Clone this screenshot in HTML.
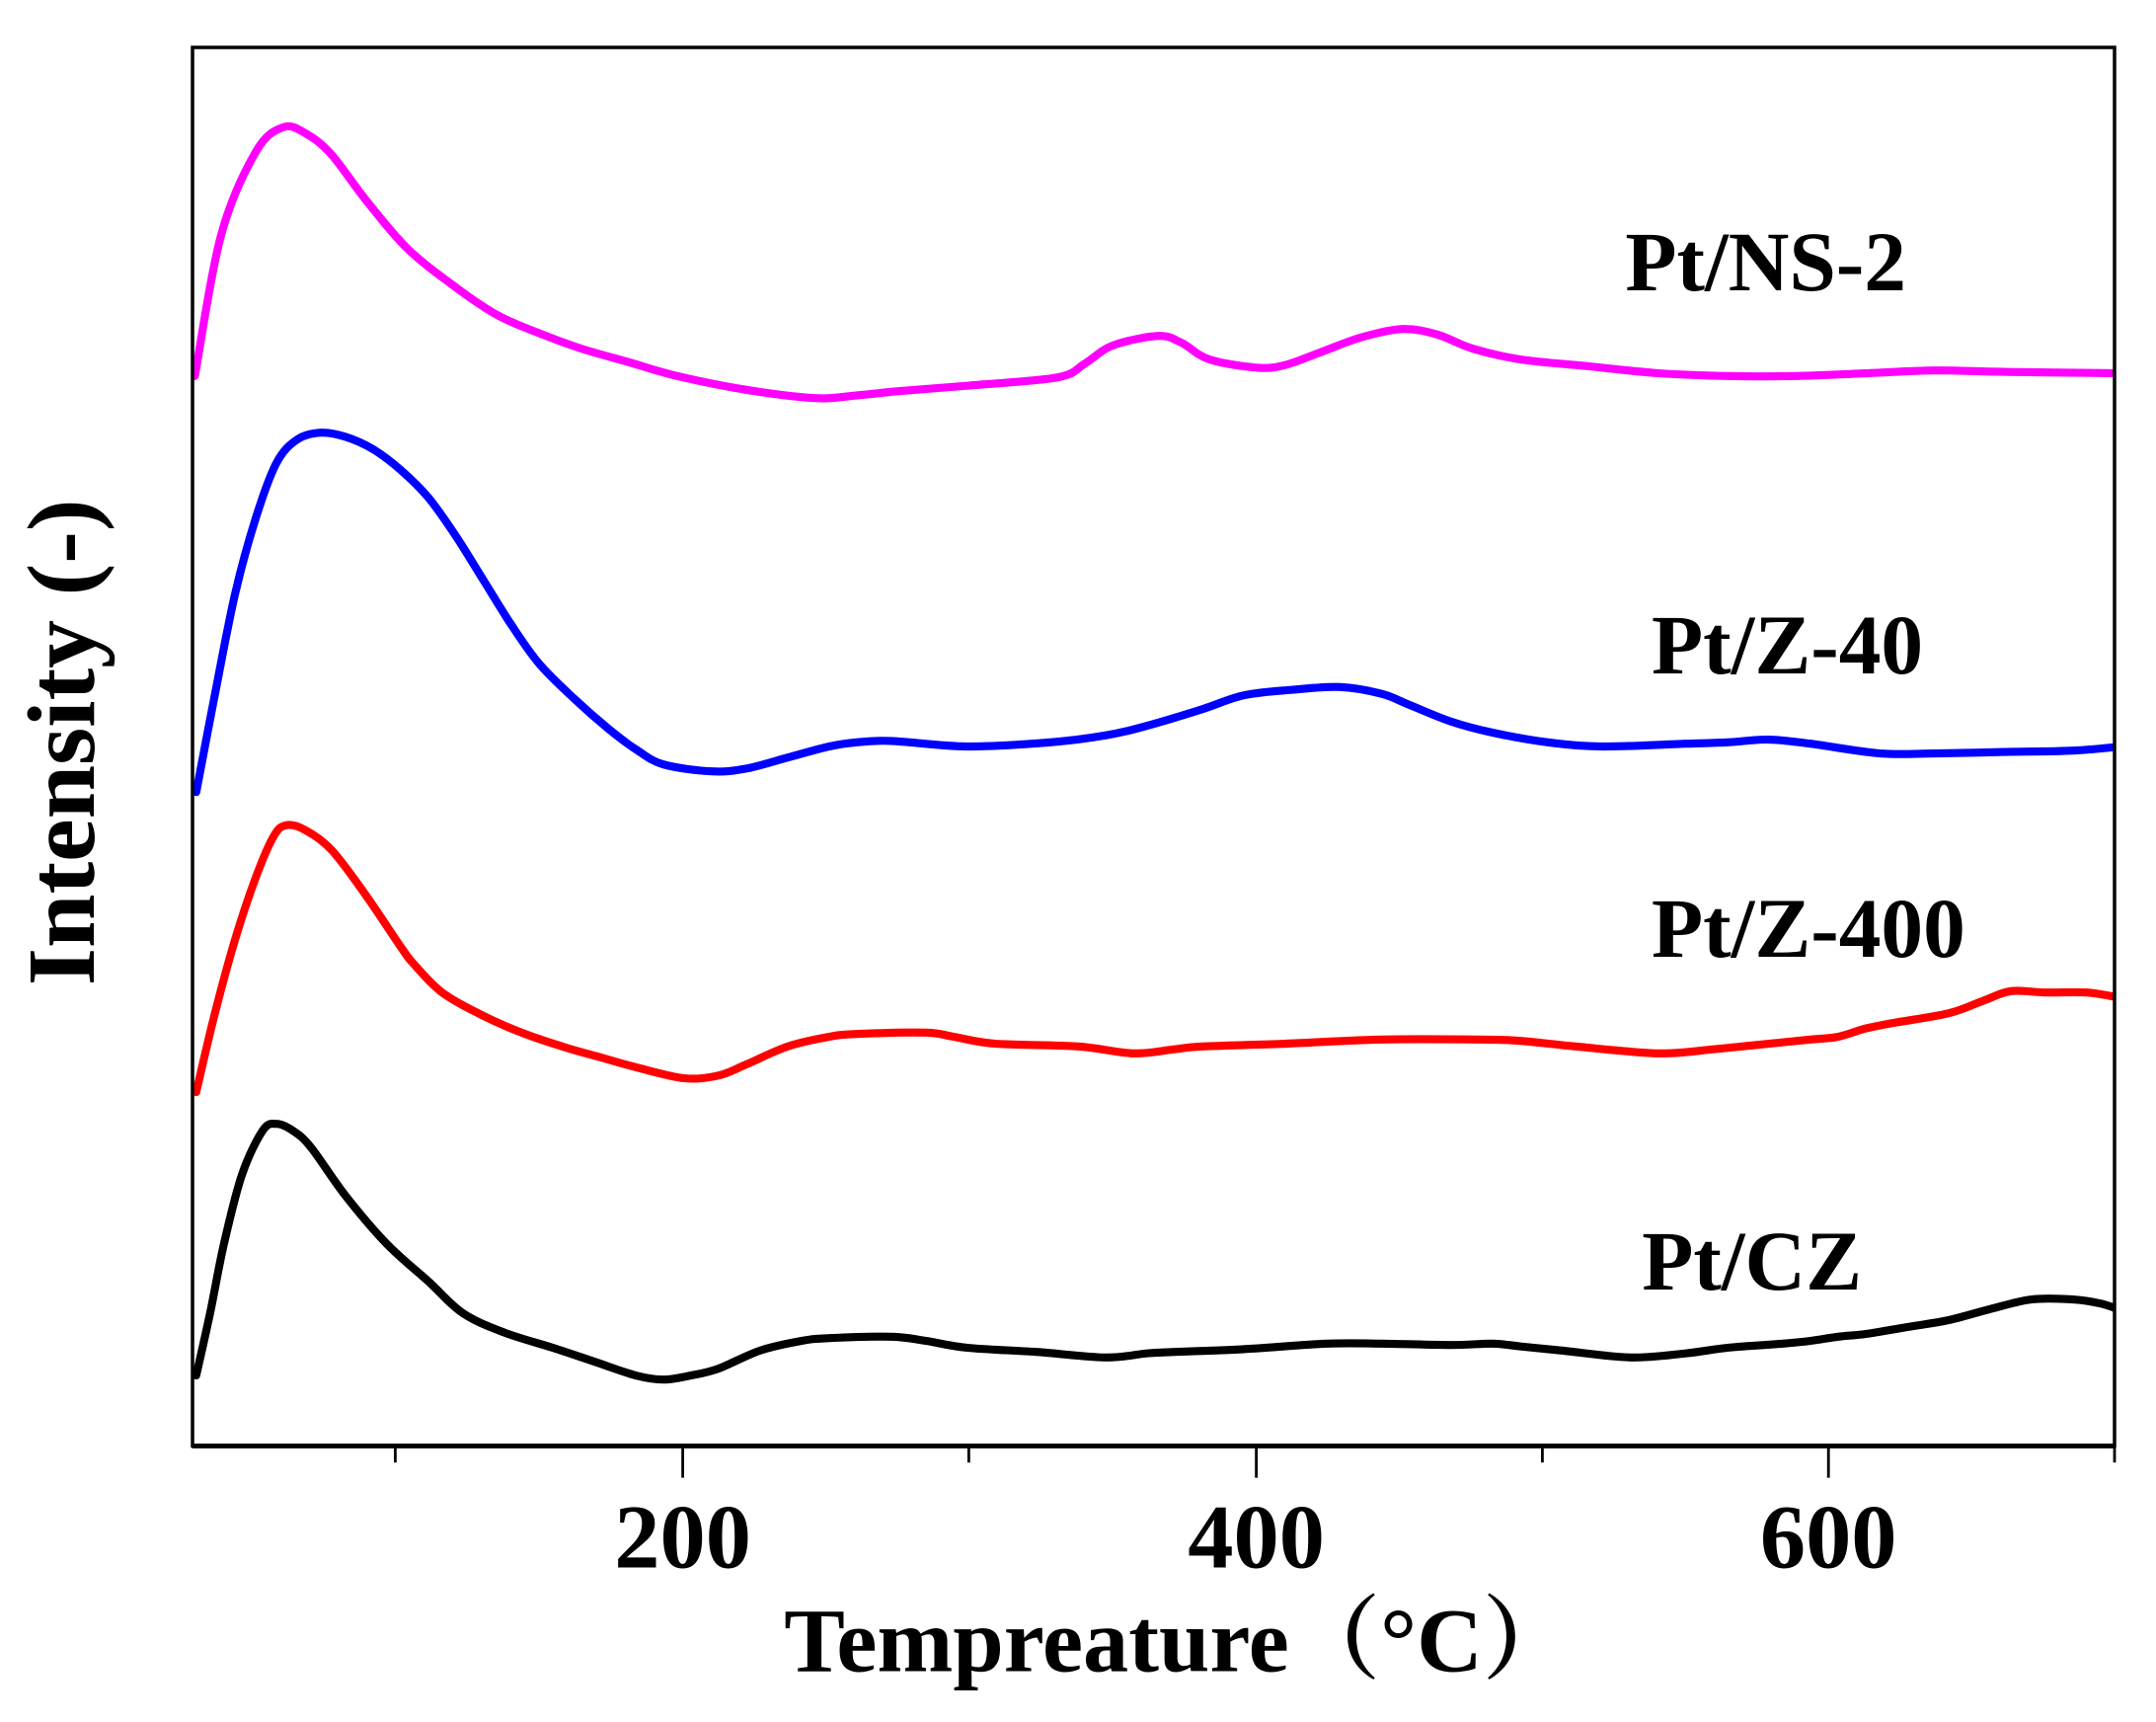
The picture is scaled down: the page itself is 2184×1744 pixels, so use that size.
<!DOCTYPE html>
<html><head><meta charset="utf-8"><style>
html,body{margin:0;padding:0;background:#fff;}
svg{display:block;}
text{font-family:"Liberation Serif","Noto Serif CJK SC",serif;font-weight:bold;fill:#000;}
</style></head><body>
<svg id="s" width="2184" height="1744" viewBox="0 0 1560 1245.7" xmlns="http://www.w3.org/2000/svg">
<defs><clipPath id="cp"><rect x="139.3" y="34.3" width="1390.7" height="1011.7"/></clipPath></defs>
<rect x="0" y="0" width="1560" height="1246" fill="#fff"/>
<g id="curves" clip-path="url(#cp)" fill="none" stroke-width="5.8" stroke-linejoin="round" stroke-linecap="round"></g>
<rect x="139.3" y="34.3" width="1390.7" height="1011.7" fill="none" stroke="#000" stroke-width="2.5"/>
<line x1="139" y1="1046" x2="1531" y2="1046" stroke="#000" stroke-width="3.5"/>
<g stroke="#000" stroke-width="2">
<line x1="286" y1="1046" x2="286" y2="1058"/>
<line x1="494" y1="1046" x2="494" y2="1069"/>
<line x1="701" y1="1046" x2="701" y2="1058"/>
<line x1="909" y1="1046" x2="909" y2="1069"/>
<line x1="1116" y1="1046" x2="1116" y2="1058"/>
<line x1="1323" y1="1046" x2="1323" y2="1069"/>
<line x1="1530" y1="1046" x2="1530" y2="1058"/>
</g>
<g font-size="66" text-anchor="middle">
<text x="494" y="1134">200</text>
<text x="909" y="1134">400</text>
<text x="1323" y="1134">600</text>
</g>
<text x="853" y="1209" font-size="66" text-anchor="middle">Tempreature（°C）</text>
<text transform="translate(68,537) rotate(-90)" font-size="70" text-anchor="middle">Intensity (-)</text>
<g font-size="61">
<text x="1176" y="210">Pt/NS-2</text>
<text x="1195" y="487">Pt/Z-40</text>
<text x="1195" y="692">Pt/Z-400</text>
<text x="1188" y="933">Pt/CZ</text>
</g>
</svg>
<script>
var S={
"#ff00ff":[[141,272],[160,170],[185,110],[205,92],[222,97],[240,112],[265,145],[295,180],[330,208],[360,228],[390,241],[420,252],[455,262],[490,272],[540,282],[590,288],[620,286],[650,283],[700,279],[765,273],[785,263],[805,250],[838,243],[855,248],[875,260],[910,266],[930,264],[955,255],[985,244],[1015,238],[1040,242],[1065,252],[1100,260],[1150,265],[1200,270],[1250,272],[1300,272],[1350,270],[1400,268],[1450,269],[1535,270]],
"#0000ff":[[142,573],[155,505],[170,430],[185,375],[200,335],[215,318],[232,313],[250,316],[270,325],[290,340],[310,360],[330,388],[350,420],[370,452],[390,480],[415,505],[440,527],[460,542],[480,553],[515,558],[540,556],[570,548],[600,540],[620,537],[645,536],[700,540],[760,537],[800,532],[830,525],[870,513],[900,503],[935,499],[970,497],[1000,502],[1020,510],[1050,522],[1080,530],[1120,537],[1160,540],[1220,538],[1250,537],[1280,535],[1310,538],[1360,545],[1400,545],[1450,544],[1500,543],[1535,540]],
"#ff0000":[[142,790],[155,735],[170,680],[185,635],[198,605],[207,597],[220,600],[240,615],[265,648],[290,685],[300,698],[320,718],[350,735],[380,748],[410,758],[435,765],[460,772],[495,780],[520,778],[540,770],[570,757],[600,750],[620,748],[670,747],[690,750],[720,755],[780,757],[820,762],[850,759],[870,757],[930,755],[1000,752],[1070,752],[1100,753],[1140,757],[1200,762],[1240,759],[1270,756],[1310,752],[1330,750],[1350,744],[1370,740],[1410,733],[1435,724],[1455,717],[1480,718],[1510,718],[1535,722]],
"#000000":[[142,995],[152,950],[162,900],[175,850],[190,818],[200,813],[212,818],[225,830],[250,865],[280,900],[310,927],[335,950],[365,964],[400,975],[430,985],[460,995],[480,998],[500,995],[520,990],[550,977],[580,970],[600,968],[645,967],[670,970],[700,975],[750,978],[800,982],[830,979],[850,978],[900,976],[960,972],[1000,972],[1050,973],[1080,972],[1100,974],[1130,977],[1180,982],[1220,979],[1250,975],[1290,972],[1310,970],[1330,967],[1350,965],[1380,960],[1410,955],[1440,947],[1470,940],[1500,940],[1520,943],[1535,948]]
};
var g=document.getElementById("curves"),ns="http://www.w3.org/2000/svg";
for(var c in S){var p=S[c],d="M"+p[0][0]+","+p[0][1];
for(var i=0;i<p.length-1;i++){var p0=p[i-1]||p[i],p1=p[i],p2=p[i+1],p3=p[i+2]||p2;
d+=" C"+(p1[0]+(p2[0]-p0[0])/6)+","+(p1[1]+(p2[1]-p0[1])/6)+" "+(p2[0]-(p3[0]-p1[0])/6)+","+(p2[1]-(p3[1]-p1[1])/6)+" "+p2[0]+","+p2[1];}
var e=document.createElementNS(ns,"path");e.setAttribute("d",d);e.setAttribute("stroke",c);g.appendChild(e);}
</script>
</body></html>
